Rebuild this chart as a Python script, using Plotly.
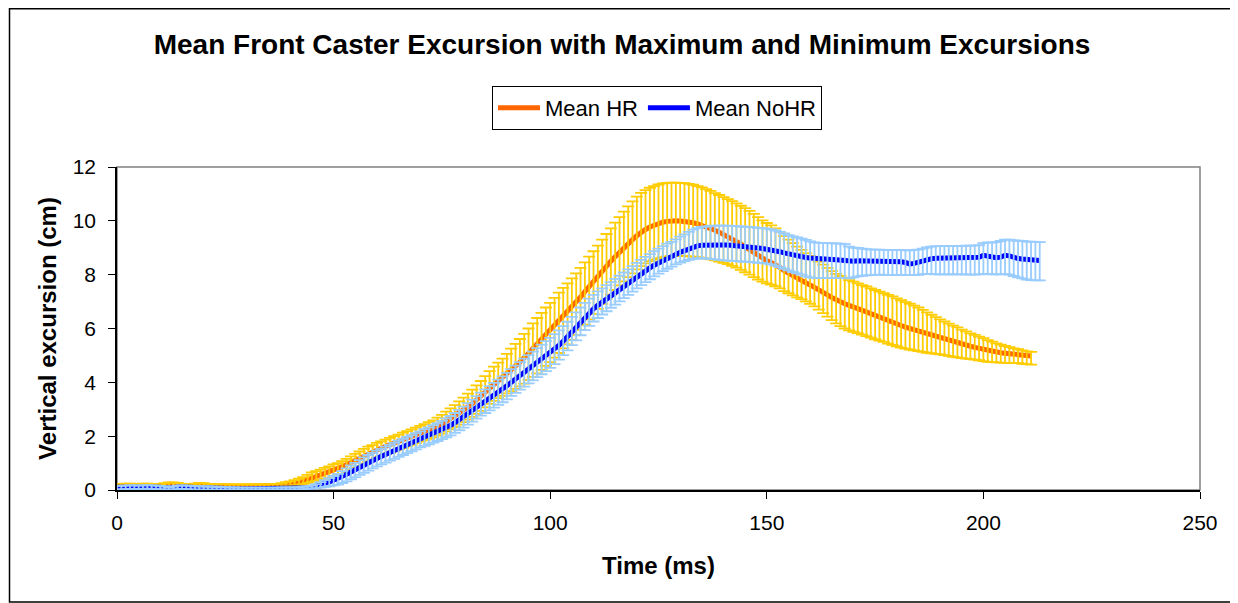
import plotly.graph_objects as go

# ---------------- data (1 ms sampling) ----------------
hr_mean = [
    0.15,0.15,0.16,0.16,0.15,0.15,0.16,0.16,0.15,0.14,
    0.14,0.17,0.2,0.2,0.18,0.15,0.14,0.14,0.16,0.18,
    0.17,0.15,0.14,0.14,0.14,0.13,0.13,0.13,0.13,0.13,
    0.13,0.13,0.13,0.13,0.13,0.13,0.14,0.15,0.17,0.2,
    0.22,0.25,0.28,0.32,0.38,0.45,0.5,0.56,0.62,0.68,
    0.75,0.8,0.86,0.94,1.02,1.1,1.18,1.28,1.36,1.42,
    1.5,1.56,1.62,1.68,1.74,1.8,1.86,1.92,1.98,2.04,
    2.1,2.16,2.22,2.29,2.37,2.45,2.55,2.65,2.75,2.86,
    2.97,3.09,3.21,3.34,3.47,3.62,3.78,3.92,4.05,4.18,
    4.31,4.45,4.6,4.75,4.91,5.08,5.25,5.43,5.6,5.78,
    5.95,6.12,6.3,6.47,6.63,6.8,6.98,7.17,7.37,7.57,
    7.77,7.96,8.15,8.33,8.5,8.67,8.84,9.0,9.16,9.3,
    9.45,9.58,9.68,9.77,9.84,9.9,9.95,9.98,10.0,10.0,
    9.99,9.98,9.96,9.93,9.89,9.84,9.78,9.72,9.65,9.58,
    9.5,9.42,9.33,9.24,9.14,9.03,8.92,8.81,8.7,8.6,
    8.52,8.45,8.37,8.27,8.15,8.05,7.95,7.86,7.78,7.7,
    7.62,7.54,7.45,7.35,7.25,7.15,7.06,6.99,6.92,6.86,
    6.81,6.75,6.68,6.62,6.55,6.48,6.42,6.36,6.3,6.24,
    6.18,6.11,6.05,6.0,5.95,5.9,5.85,5.8,5.75,5.7,
    5.65,5.6,5.55,5.51,5.47,5.42,5.38,5.34,5.3,5.26,
    5.22,5.18,5.15,5.12,5.1,5.08,5.07,5.05,5.04,5.02,
    5.0,4.98,
]
hr_plus = [
    0.08,0.08,0.08,0.08,0.08,0.08,0.08,0.08,0.08,0.08,
    0.08,0.08,0.08,0.08,0.08,0.08,0.08,0.08,0.08,0.08,
    0.08,0.08,0.08,0.08,0.08,0.08,0.08,0.08,0.08,0.08,
    0.08,0.08,0.08,0.08,0.08,0.08,0.08,0.08,0.08,0.09,
    0.1,0.12,0.14,0.16,0.18,0.2,0.2,0.2,0.2,0.2,
    0.2,0.2,0.21,0.22,0.23,0.24,0.25,0.25,0.25,0.25,
    0.25,0.25,0.25,0.26,0.26,0.26,0.27,0.27,0.27,0.28,
    0.28,0.29,0.3,0.3,0.32,0.34,0.36,0.38,0.4,0.43,
    0.46,0.49,0.52,0.55,0.58,0.61,0.64,0.66,0.68,0.7,
    0.75,0.8,0.83,0.86,0.89,0.92,0.94,0.96,0.98,1.0,
    1.0,1.02,1.03,1.04,1.05,1.06,1.07,1.08,1.09,1.1,
    1.1,1.12,1.15,1.18,1.22,1.26,1.3,1.34,1.38,1.42,
    1.45,1.46,1.46,1.46,1.45,1.45,1.44,1.43,1.42,1.42,
    1.42,1.42,1.41,1.41,1.4,1.4,1.4,1.39,1.38,1.38,
    1.38,1.39,1.4,1.41,1.42,1.44,1.45,1.45,1.44,1.42,
    1.4,1.38,1.35,1.32,1.28,1.25,1.22,1.18,1.14,1.1,
    1.08,1.06,1.04,1.02,1.0,0.98,0.97,0.96,0.95,0.94,
    0.93,0.93,0.93,0.94,0.94,0.95,0.95,0.95,0.95,0.95,
    0.94,0.94,0.93,0.92,0.9,0.88,0.84,0.8,0.76,0.72,
    0.69,0.66,0.63,0.6,0.57,0.54,0.51,0.48,0.46,0.44,
    0.42,0.39,0.36,0.33,0.3,0.27,0.24,0.21,0.19,0.17,
    0.15,0.15,
]
hr_minus = [
    0.05,0.05,0.05,0.05,0.05,0.05,0.05,0.05,0.05,0.05,
    0.05,0.05,0.05,0.05,0.05,0.05,0.05,0.05,0.05,0.05,
    0.05,0.05,0.05,0.05,0.05,0.05,0.05,0.05,0.05,0.05,
    0.05,0.05,0.05,0.05,0.05,0.05,0.05,0.05,0.05,0.05,
    0.06,0.07,0.08,0.1,0.12,0.14,0.16,0.18,0.2,0.22,
    0.24,0.25,0.26,0.27,0.28,0.28,0.29,0.29,0.3,0.3,
    0.3,0.3,0.3,0.3,0.3,0.3,0.3,0.3,0.3,0.3,
    0.3,0.31,0.32,0.33,0.34,0.35,0.37,0.39,0.41,0.43,
    0.45,0.47,0.49,0.51,0.53,0.55,0.58,0.61,0.64,0.68,
    0.72,0.78,0.84,0.9,0.96,1.0,1.05,1.1,1.14,1.17,
    1.2,1.2,1.21,1.21,1.22,1.22,1.22,1.22,1.23,1.23,
    1.23,1.23,1.23,1.24,1.24,1.24,1.24,1.25,1.25,1.25,
    1.25,1.26,1.26,1.27,1.28,1.29,1.3,1.3,1.3,1.3,
    1.3,1.29,1.28,1.26,1.24,1.21,1.18,1.15,1.12,1.09,
    1.06,1.03,1.0,0.98,0.96,0.94,0.92,0.9,0.88,0.86,
    0.84,0.82,0.8,0.78,0.76,0.74,0.72,0.7,0.69,0.69,
    0.7,0.72,0.75,0.78,0.81,0.84,0.87,0.9,0.92,0.93,
    0.93,0.92,0.91,0.9,0.89,0.88,0.87,0.86,0.86,0.85,
    0.84,0.82,0.8,0.78,0.76,0.74,0.72,0.7,0.67,0.64,
    0.61,0.59,0.57,0.56,0.54,0.52,0.5,0.48,0.46,0.44,
    0.43,0.42,0.4,0.38,0.37,0.36,0.35,0.34,0.33,0.33,
    0.32,0.32,
]

nohr_mean = [
    0.1,0.1,0.11,0.12,0.12,0.11,0.12,0.13,0.12,0.11,
    0.1,0.08,0.06,0.08,0.11,0.12,0.11,0.1,0.09,0.09,
    0.08,0.08,0.07,0.07,0.06,0.06,0.05,0.05,0.04,0.04,
    0.04,0.04,0.04,0.04,0.04,0.04,0.04,0.04,0.05,0.05,
    0.05,0.06,0.06,0.07,0.08,0.1,0.14,0.19,0.25,0.3,
    0.36,0.42,0.5,0.58,0.67,0.76,0.85,0.94,1.02,1.1,
    1.18,1.25,1.32,1.39,1.46,1.53,1.6,1.67,1.74,1.81,
    1.88,1.95,2.02,2.09,2.16,2.24,2.32,2.4,2.5,2.61,
    2.72,2.84,2.96,3.08,3.2,3.31,3.42,3.53,3.64,3.75,
    3.87,4.0,4.12,4.24,4.36,4.48,4.6,4.72,4.84,4.96,
    5.08,5.22,5.37,5.53,5.7,5.88,6.06,6.24,6.42,6.58,
    6.73,6.86,6.98,7.1,7.22,7.34,7.46,7.58,7.7,7.82,
    7.94,8.05,8.15,8.25,8.35,8.44,8.52,8.6,8.67,8.75,
    8.83,8.9,8.97,9.03,9.07,9.09,9.1,9.11,9.11,9.11,
    9.1,9.1,9.09,9.08,9.07,9.05,9.03,9.01,8.99,8.97,
    8.95,8.92,8.89,8.85,8.81,8.77,8.73,8.7,8.67,8.64,
    8.62,8.6,8.59,8.58,8.57,8.56,8.55,8.54,8.53,8.48,
    8.5,8.52,8.52,8.51,8.5,8.5,8.5,8.49,8.49,8.49,
    8.48,8.48,8.45,8.4,8.42,8.47,8.52,8.56,8.59,8.61,
    8.61,8.61,8.61,8.61,8.61,8.61,8.62,8.62,8.62,8.65,
    8.72,8.7,8.64,8.63,8.65,8.72,8.7,8.63,8.6,8.58,
    8.56,8.55,8.54,8.53,
]
nohr_plus = [
    0.05,0.05,0.05,0.05,0.05,0.05,0.05,0.05,0.05,0.05,
    0.05,0.05,0.05,0.05,0.05,0.05,0.05,0.05,0.05,0.05,
    0.05,0.05,0.05,0.05,0.05,0.05,0.05,0.05,0.05,0.05,
    0.05,0.05,0.05,0.05,0.05,0.05,0.05,0.05,0.05,0.05,
    0.05,0.05,0.05,0.05,0.05,0.06,0.08,0.1,0.12,0.14,
    0.16,0.18,0.2,0.22,0.24,0.25,0.26,0.27,0.28,0.28,
    0.28,0.28,0.29,0.29,0.29,0.3,0.3,0.3,0.3,0.3,
    0.3,0.31,0.31,0.32,0.32,0.33,0.34,0.35,0.36,0.37,
    0.38,0.39,0.4,0.41,0.42,0.43,0.44,0.45,0.46,0.47,
    0.48,0.49,0.5,0.51,0.52,0.53,0.54,0.55,0.56,0.57,
    0.57,0.57,0.56,0.56,0.55,0.55,0.54,0.54,0.53,0.53,
    0.52,0.52,0.51,0.51,0.5,0.5,0.5,0.5,0.5,0.5,
    0.5,0.5,0.51,0.51,0.52,0.53,0.54,0.55,0.55,0.56,
    0.58,0.6,0.62,0.64,0.66,0.68,0.69,0.7,0.71,0.71,
    0.72,0.72,0.72,0.72,0.72,0.73,0.74,0.75,0.75,0.76,
    0.76,0.76,0.75,0.74,0.72,0.7,0.69,0.68,0.67,0.65,
    0.62,0.6,0.59,0.59,0.6,0.6,0.61,0.61,0.6,0.56,
    0.5,0.47,0.45,0.44,0.43,0.43,0.43,0.43,0.43,0.43,
    0.44,0.44,0.45,0.5,0.5,0.46,0.45,0.45,0.45,0.45,
    0.45,0.45,0.45,0.45,0.45,0.45,0.46,0.46,0.46,0.45,
    0.45,0.5,0.55,0.58,0.6,0.58,0.6,0.64,0.66,0.67,
    0.67,0.68,0.68,0.68,
]
nohr_minus = [
    0.08,0.08,0.08,0.08,0.08,0.08,0.08,0.08,0.08,0.08,
    0.08,0.06,0.05,0.06,0.08,0.08,0.08,0.08,0.08,0.08,
    0.07,0.07,0.06,0.06,0.05,0.05,0.04,0.04,0.04,0.04,
    0.04,0.04,0.04,0.04,0.04,0.04,0.04,0.04,0.04,0.04,
    0.04,0.04,0.04,0.04,0.04,0.05,0.07,0.1,0.13,0.16,
    0.19,0.22,0.24,0.26,0.27,0.28,0.29,0.3,0.3,0.3,
    0.3,0.3,0.3,0.3,0.3,0.3,0.3,0.3,0.3,0.3,
    0.3,0.31,0.32,0.33,0.34,0.35,0.36,0.37,0.38,0.39,
    0.4,0.41,0.42,0.43,0.44,0.45,0.46,0.47,0.48,0.49,
    0.5,0.5,0.51,0.51,0.52,0.52,0.53,0.53,0.54,0.54,
    0.54,0.54,0.53,0.52,0.51,0.5,0.5,0.49,0.48,0.48,
    0.47,0.47,0.46,0.46,0.45,0.45,0.45,0.45,0.45,0.45,
    0.45,0.44,0.43,0.42,0.41,0.4,0.39,0.38,0.37,0.37,
    0.38,0.4,0.42,0.44,0.46,0.48,0.5,0.52,0.54,0.56,
    0.57,0.58,0.58,0.58,0.58,0.57,0.56,0.55,0.55,0.54,
    0.54,0.54,0.55,0.57,0.59,0.61,0.63,0.65,0.67,0.7,
    0.72,0.72,0.72,0.71,0.7,0.69,0.68,0.67,0.66,0.62,
    0.6,0.58,0.56,0.54,0.52,0.51,0.5,0.5,0.5,0.5,
    0.49,0.49,0.47,0.42,0.44,0.48,0.5,0.53,0.57,0.6,
    0.6,0.6,0.6,0.6,0.6,0.6,0.61,0.62,0.62,0.64,
    0.7,0.68,0.63,0.62,0.64,0.7,0.7,0.68,0.7,0.72,
    0.74,0.75,0.75,0.74,
]

assert len(hr_mean) == len(hr_plus) == len(hr_minus)
assert len(nohr_mean) == len(nohr_plus) == len(nohr_minus)

hr_time = list(range(len(hr_mean)))
nohr_time = list(range(len(nohr_mean)))

x_ticks = [0, 50, 100, 150, 200, 250]
y_ticks = [0, 2, 4, 6, 8, 10, 12]

TITLE = "Mean Front Caster Excursion with Maximum and Minimum Excursions"
FONT = "Arial, Liberation Sans, Helvetica, sans-serif"

ORANGE = "#FF6600"
YELLOW = "#FFCC00"
BLUE = "#0000FF"
LIGHTBLUE = "#99CCFF"

fig = go.Figure()

fig.add_trace(go.Scatter(
    x=hr_time, y=hr_mean, mode="lines", name="Mean HR",
    line=dict(color=ORANGE, width=5),
))
fig.add_trace(go.Scatter(
    x=hr_time, y=hr_mean, mode="markers", showlegend=False, hoverinfo="skip",
    marker=dict(size=1, color="rgba(0,0,0,0)"),
    error_y=dict(type="data", symmetric=False, array=hr_plus, arrayminus=hr_minus,
                 color=YELLOW, thickness=1.8, width=6),
))
fig.add_trace(go.Scatter(
    x=nohr_time, y=nohr_mean, mode="lines", name="Mean NoHR",
    line=dict(color=BLUE, width=5),
))
fig.add_trace(go.Scatter(
    x=nohr_time, y=nohr_mean, mode="markers", showlegend=False, hoverinfo="skip",
    marker=dict(size=1, color="rgba(0,0,0,0)"),
    error_y=dict(type="data", symmetric=False, array=nohr_plus, arrayminus=nohr_minus,
                 color=LIGHTBLUE, thickness=1.8, width=6),
))

# the page puts the figure at an 8px offset (body margin); layout in page pixels
OFF = 8
W, H = 1238 - OFF, 603 - OFF
PL, PR, PT, PB = 117, 1200, 167, 490  # plot area in page pixels
L = PL - OFF
R = W - (PR - OFF)
T = PT - OFF
B = H - (PB - OFF)
pw, ph = PR - PL, PB - PT

def px_x(px):
    return (px - PL) / pw

def px_y(py):
    return (PB - py) / ph

fig.update_layout(
    width=W, height=H,
    margin=dict(l=L, r=R, t=T, b=B, pad=0),
    paper_bgcolor="white", plot_bgcolor="white",
    font=dict(family=FONT, size=21, color="black"),
    title=dict(text="<b>" + TITLE + "</b>", x=(622 - OFF) / W, xref="container",
               xanchor="center", y=1 - (44 - OFF) / H, yref="container", yanchor="middle",
               font=dict(size=28, family=FONT)),
    showlegend=True,
    legend=dict(orientation="h", x=px_x(657), xanchor="center", y=px_y(86), yanchor="top",
                bordercolor="black", borderwidth=1, bgcolor="white",
                font=dict(size=22, family=FONT), itemwidth=42,
                tracegroupgap=0, traceorder="normal"),
    xaxis=dict(range=[0, 250], tickvals=x_ticks, ticks="outside", ticklen=7, tickwidth=1,
               tickcolor="black", showline=True, linecolor="black", linewidth=1.5,
               showgrid=False, zeroline=False, ticklabelstandoff=6,
               tickfont=dict(size=21), title=dict(text="<b>Time (ms)</b>", standoff=24,
                                                   font=dict(size=24))),
    yaxis=dict(range=[0, 12], tickvals=y_ticks, ticks="outside", ticklen=7, tickwidth=1,
               tickcolor="black", showline=True, linecolor="black", linewidth=1.5,
               showgrid=False, zeroline=False, ticklabelstandoff=8,
               tickfont=dict(size=21), title=dict(text="<b>Vertical excursion (cm)</b>",
                                                   standoff=9, font=dict(size=24))),
    shapes=[
        dict(type="rect", xref="paper", yref="paper", x0=0, x1=1, y0=0, y1=1,
             line=dict(color="#808080", width=1.5), layer="below"),
        dict(type="rect", xref="paper", yref="paper",
             x0=px_x(9.5), x1=px_x(1236), y0=px_y(602), y1=px_y(8.8),
             line=dict(color="black", width=1.5), layer="below"),
    ],
)

fig.write_html("out.html")
